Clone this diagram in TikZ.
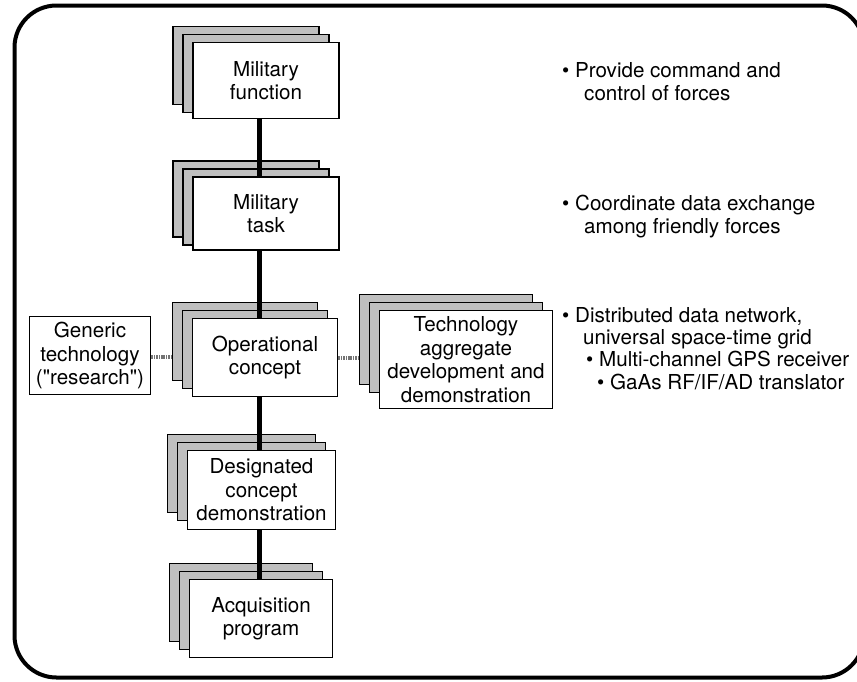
\documentclass[tikz,border=0pt]{standalone}
\usepackage{fontspec}
\setmainfont{TeX Gyre Heros}
\newcommand\dgfont{\fontsize{20.6}{23.5}\selectfont}

\tikzset{
  frontbox/.style={draw, line width=1.8pt, fill=white, inner sep=0pt, align=center, font=\dgfont},
  shadebox/.style={draw, line width=1.8pt, fill=black!25, inner sep=0pt},
  spineline/.style={line width=5pt},
  link/.style={line width=4pt, black!55, dash pattern=on 1.6pt off 0.8pt},
  outerframe/.style={line width=4pt, rounded corners=42pt},
  note/.style={anchor=base west, inner sep=0pt, font=\dgfont},
}

% #1 name, #2 centre x, #3 centre y, #4 width, #5 height, #6 height of the cards behind, #7 text
% (sizes are plain numbers, in pt)
\newcommand\dgstack[7]{%
  \node[shadebox, minimum width=#4pt, minimum height=#6pt] (#1-b1) at (#2-20, #3-#5/2-16+#6/2) {};
  \node[shadebox, minimum width=#4pt, minimum height=#6pt] (#1-b2) at (#2-10, #3-#5/2-8+#6/2) {};
  \node[frontbox, minimum width=#4pt, minimum height=#5pt] (#1) at (#2, #3) {#7};
}

\begin{document}
\begin{tikzpicture}[x=1pt, y=-1pt]
  \useasboundingbox (0,0) rectangle (857,681);

  % rounded outer frame (its right side runs past the page edge)
  \draw[outerframe] (14.5,5.5) rectangle (864,677.5);

  % stacked cards
  \dgstack{mf}{266}{80.5}{146}{76}{78}{Military\\function}
  \dgstack{mt}{266}{213.5}{146}{73}{76}{Military\\task}
  \dgstack{op}{265}{357.5}{145}{78}{78}{Operational\\concept}
  \dgstack{dc}{261.5}{490}{148}{79}{78}{Designated\\concept\\demonstration}
  \dgstack{aq}{261}{618.5}{143}{78}{78}{Acquisition\\program}
  \dgstack{ta}{466}{359.5}{173}{98}{90}{Technology\\aggregate\\development and\\demonstration}

  % single box on the left
  \node[frontbox, minimum width=121pt, minimum height=78pt] (gt) at (90,355.5)
    {Generic\\technology\\(\textquotedbl research\textquotedbl)};

  % vertical spine
  \coordinate (spine) at (259,0);
  \draw[spineline] (mf.south -| spine) -- (mt.north -| spine);
  \draw[spineline] (mt.south -| spine) -- (op.north -| spine);
  \draw[spineline] (op.south -| spine) -- (dc.north -| spine);
  \draw[spineline] (dc.south -| spine) -- (aq.north -| spine);

  % side links
  \coordinate (linkl) at (0,357);
  \coordinate (linkr) at (0,358);
  \draw[link] (gt.east |- linkl) -- (op-b1.west |- linkl);
  \draw[link] (op.east |- linkr) -- (ta-b1.west |- linkr);

  % notes on the right
  \node[note] (n1a) at (562,77)  {\textbullet\ Provide command and};
  \node[note] (n1b) at (584,100) {control of forces};
  \node[note] (n2a) at (562,210) {\textbullet\ Coordinate data exchange};
  \node[note] (n2b) at (584,233) {among friendly forces};
  \node[note] (n3a) at (562,322) {\textbullet\ Distributed data network,};
  \node[note] (n3b) at (583,344) {universal space-time grid};
  \node[note] (n3c) at (586,366) {\textbullet\ Multi-channel GPS receiver};
  \node[note] (n3d) at (597,389) {\textbullet\ GaAs RF/IF/AD translator};
\end{tikzpicture}
\end{document}
